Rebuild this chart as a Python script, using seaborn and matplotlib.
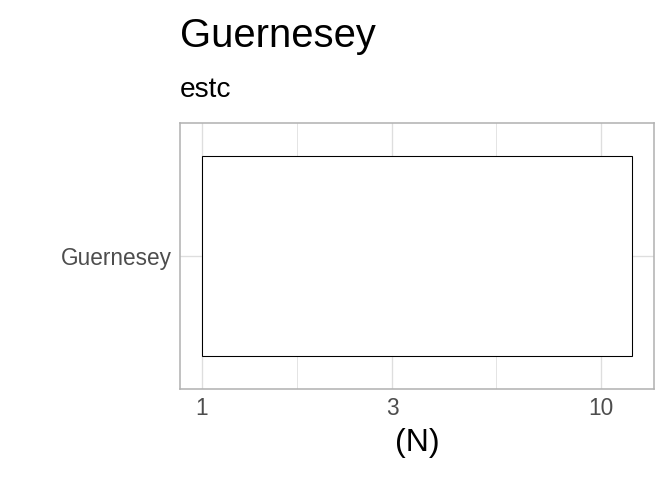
import numpy as np
import pandas as pd
import matplotlib
matplotlib.use('Agg')
import matplotlib.pyplot as plt
import seaborn as sns

# Data
places = ['Guernesey']
counts = [12]
tick_values = [1, 3, 10]
tick_labels = ['1', '3', '10']

df = pd.DataFrame({'place': places, 'n': counts})
df['log_n'] = np.log10(df['n'])

sns.set_theme(style='white')
plt.rcParams['font.family'] = ['Liberation Sans', 'DejaVu Sans']
plt.rcParams['text.color'] = 'black'
plt.rcParams['axes.labelcolor'] = 'black'

fig = plt.figure(figsize=(7, 5), dpi=96)
ax = fig.add_axes([0.268, 0.190, 0.705, 0.554])

sns.barplot(data=df, x='log_n', y='place', orient='h', width=0.9,
            color='white', edgecolor='black', linewidth=0.8, ax=ax, zorder=3)

# log10 scale like ggplot: major breaks plus midpoints as minor
major = np.log10(tick_values)
minor = (major[:-1] + major[1:]) / 2
span = df['log_n'].max() - 0
ax.set_xlim(-0.05 * span, df['log_n'].max() + 0.05 * span)
ax.set_ylim(0.6, -0.6)
ax.set_xticks(major)
ax.set_xticklabels(tick_labels)
ax.set_xticks(minor, minor=True)

ax.grid(True, which='major', axis='both', color='#DEDEDE', linewidth=1.0, zorder=0)
ax.grid(True, which='minor', axis='x', color='#DEDEDE', linewidth=0.6, zorder=0)
ax.set_axisbelow(True)

for s in ax.spines.values():
    s.set_color('#B3B3B3')
    s.set_linewidth(1.2)

ax.tick_params(axis='both', which='major', length=3.5, color='#B3B3B3',
               labelcolor='#4D4D4D', labelsize=17, pad=3)
ax.tick_params(axis='x', which='minor', length=0)
ax.set_xlabel('(N)', fontsize=24, labelpad=6, color='black')
ax.set_ylabel('')

fig.text(0.268, 0.903, 'Guernesey', fontsize=30, ha='left', va='baseline', color='black')
fig.text(0.268, 0.797, 'estc', fontsize=21, ha='left', va='baseline', color='black')

fig.savefig('out.png', dpi=96)
